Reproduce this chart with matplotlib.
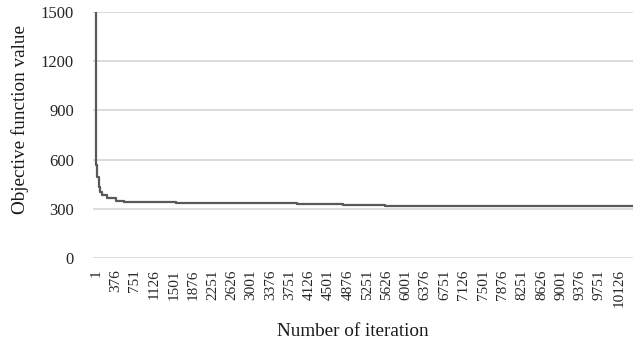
import matplotlib
matplotlib.use("Agg")
from matplotlib import pyplot as plt

# best objective value found so far, as a step curve over iterations
iters = [1, 2, 20, 50, 80, 120, 200, 390, 530, 1550, 3900, 4790, 5590, 10406]
best = [1500, 570, 494, 433, 402, 384, 366, 348, 340, 335, 330, 325, 320, 316]

xticks = list(range(1, 10127, 375))
yticks = [0, 300, 600, 900, 1200, 1500]

plt.rcParams['font.family'] = ['Liberation Serif', 'DejaVu Serif']

fig = plt.figure(figsize=(6.39, 3.47), dpi=100)
ax = fig.add_axes([0.146, 0.2565, 0.845, 0.7085])

ax.step(iters, best, where='post', color='#595959', lw=1.6, zorder=3)

ax.set_xlim(-57, 10406)
ax.set_ylim(0, 1500)
ax.set_yticks(yticks)
ax.set_xticks(xticks)
ax.set_xticklabels([str(t) for t in xticks], rotation=90, va='top', ha='center')

ax.grid(axis='y', color='#d9d9d9', lw=1.3)
ax.set_axisbelow(True)
for s in ax.spines.values():
    s.set_visible(False)
ax.tick_params(axis='both', length=0, colors='#262626')
ax.tick_params(axis='y', pad=14, labelsize=12)
ax.tick_params(axis='x', pad=8, labelsize=11)

fig.text(353 / 639, 1 - 332 / 347, 'Number of iteration', ha='center', va='center',
         fontsize=13.8, color='#1a1a1a')
fig.text(20 / 639, 1 - 119 / 347, 'Objective function value', ha='center', va='center',
         rotation=90, fontsize=13.8, color='#1a1a1a')

fig.savefig('out.png', dpi=100)
